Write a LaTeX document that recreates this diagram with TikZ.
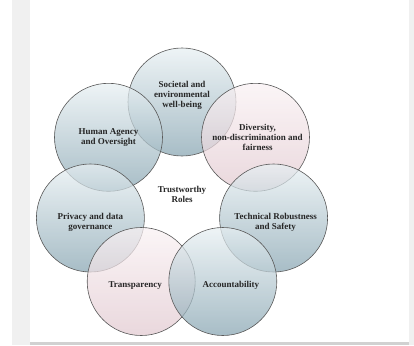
\documentclass[tikz,border=0pt]{standalone}
\usepackage{fontspec}
\setmainfont{Liberation Serif}
\begin{document}
\begin{tikzpicture}[x=1pt,y=-1pt,
  bluec/.style={circle,minimum size=108pt,inner sep=0pt,draw=black!65,line width=0.6pt,
    top color=blue1,bottom color=blue2,fill opacity=0.72,text opacity=1},
  pinkc/.style={circle,minimum size=108pt,inner sep=0pt,draw=black!65,line width=0.6pt,
    top color=pink1,bottom color=pink2,fill opacity=0.72,text opacity=1},
  lbl/.style={font=\bfseries\fontsize{9}{10}\selectfont,text=black!85,align=center}]
\definecolor{blue1}{HTML}{E8F0F3}
\definecolor{blue2}{HTML}{86A4B1}
\definecolor{pink1}{HTML}{FAF2F4}
\definecolor{pink2}{HTML}{E2C9D0}
\useasboundingbox (0,0) rectangle (414,345);
\fill[white] (0,0) rectangle (414,345);
\fill[black!6] (12,0) rectangle (30,345);
\fill[black!6] (409,0) rectangle (414,345);
\fill[black!18] (30,342) rectangle (409,345);
\node[bluec] (soc) at (182,102) {};
\node[bluec] (hum) at (108.5,137.3) {};
\node[pinkc] (div) at (255.5,137.3) {};
\node[bluec] (pri) at (90.4,218) {};
\node[bluec] (tec) at (273.6,218) {};
\node[pinkc] (tra) at (141.2,281.5) {};
\node[bluec] (acc) at (222.8,281.5) {};
\node[lbl] at ([yshift=7pt]soc.center) {Societal and\\environmental\\well-being};
\node[lbl] at (hum.center) {Human Agency\\and Oversight};
\node[lbl] at ([xshift=2pt]div.center) {Diversity,\\non-discrimination and\\fairness};
\node[lbl] at ([yshift=-4pt]pri.center) {Privacy and data\\governance};
\node[lbl] at ([xshift=2pt,yshift=-4pt]tec.center) {Technical Robustness\\and Safety};
\node[lbl] at ([xshift=-6pt,yshift=-4pt]tra.center) {Transparency};
\node[lbl] at ([xshift=8pt,yshift=-4pt]acc.center) {Accountability};
\node[lbl] (tr) at (182,194) {Trustworthy\\Roles};
\end{tikzpicture}
\end{document}
